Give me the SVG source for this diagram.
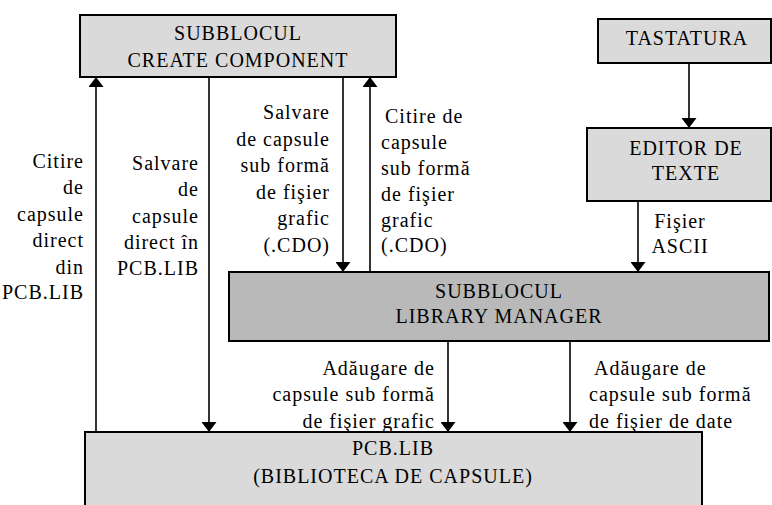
<svg xmlns="http://www.w3.org/2000/svg" width="772" height="505" viewBox="0 0 772 505">
<style>
  .box{stroke:#000;stroke-width:2}
  .light{fill:#dadada}
  .dark{fill:#b9b9b9}
  text{font-family:"Liberation Serif","Times New Roman",serif;font-size:20px;letter-spacing:1px;fill:#000}
  .c{text-anchor:middle}
  .e{text-anchor:end}
  .conn line{stroke:#000;stroke-width:1.6;fill:none}
</style>
<defs>
  <marker id="ah" viewBox="0 0 10 15" refX="10" refY="7.5" markerWidth="10" markerHeight="15" markerUnits="userSpaceOnUse" orient="auto">
    <path d="M0,0 L10,7.5 L0,15 z" fill="#000"/>
  </marker>
</defs>
<rect width="772" height="505" fill="#fff"/>

<g id="connectors" class="conn">
  <line x1="96" y1="432" x2="96" y2="77" marker-end="url(#ah)"/>
  <line x1="209" y1="77" x2="209" y2="432" marker-end="url(#ah)"/>
  <line x1="343" y1="77" x2="343" y2="272" marker-end="url(#ah)"/>
  <line x1="370" y1="272" x2="370" y2="77" marker-end="url(#ah)"/>
  <line x1="689" y1="63" x2="689" y2="128" marker-end="url(#ah)"/>
  <line x1="638" y1="201" x2="638" y2="272" marker-end="url(#ah)"/>
  <line x1="448" y1="341" x2="448" y2="432" marker-end="url(#ah)"/>
  <line x1="570" y1="341" x2="570" y2="432" marker-end="url(#ah)"/>
</g>

<g id="labels">
  <text class="e" x="84" y="168">Citire</text>
  <text class="e" x="84" y="194">de</text>
  <text class="e" x="84" y="221">capsule</text>
  <text class="e" x="84" y="247">direct</text>
  <text class="e" x="84" y="274">din</text>
  <text class="e" x="84" y="299">PCB.LIB</text>

  <text class="e" x="199" y="170">Salvare</text>
  <text class="e" x="199" y="196">de</text>
  <text class="e" x="199" y="223">capsule</text>
  <text class="e" x="199" y="249">direct în</text>
  <text class="e" x="199" y="275">PCB.LIB</text>

  <text class="e" x="330" y="119">Salvare</text>
  <text class="e" x="330" y="146">de capsule</text>
  <text class="e" x="330" y="172">sub formă</text>
  <text class="e" x="330" y="199">de fişier</text>
  <text class="e" x="330" y="225">grafic</text>
  <text class="e" x="330" y="252">(.CDO)</text>

  <text x="385" y="123">Citire de</text>
  <text x="381" y="149">capsule</text>
  <text x="381" y="175">sub formă</text>
  <text x="381" y="201">de fişier</text>
  <text x="381" y="227">grafic</text>
  <text x="381" y="252">(.CDO)</text>

  <text class="c" x="680" y="228">Fişier</text>
  <text class="c" x="680" y="253">ASCII</text>

  <text class="e" x="435" y="375">Adăugare de</text>
  <text class="e" x="435" y="401">capsule sub formă</text>
  <text class="e" x="435" y="428">de fişier grafic</text>

  <text x="594" y="375">Adăugare de</text>
  <text x="589" y="401">capsule sub formă</text>
  <text x="589" y="428">de fişier de date</text>
</g>

<g id="create-component">
  <rect class="box light" x="80" y="15" width="316" height="62"/>
  <text class="c" x="238" y="40">SUBBLOCUL</text>
  <text class="c" x="238" y="67">CREATE COMPONENT</text>
</g>

<g id="tastatura">
  <rect class="box light" x="598" y="19" width="173" height="44"/>
  <text class="c" x="687" y="45">TASTATURA</text>
</g>

<g id="editor-texte">
  <rect class="box light" x="587" y="128" width="184" height="73"/>
  <text class="c" x="686" y="155">EDITOR DE</text>
  <text class="c" x="686" y="180">TEXTE</text>
</g>

<g id="library-manager">
  <rect class="box dark" x="229" y="272" width="540" height="69"/>
  <text class="c" x="499" y="298">SUBBLOCUL</text>
  <text class="c" x="499" y="323">LIBRARY MANAGER</text>
</g>

<g id="pcb-lib">
  <rect class="box light" x="85" y="432" width="617" height="80"/>
  <text class="c" x="393" y="455">PCB.LIB</text>
  <text class="c" x="393" y="483">(BIBLIOTECA DE CAPSULE)</text>
</g>
</svg>
